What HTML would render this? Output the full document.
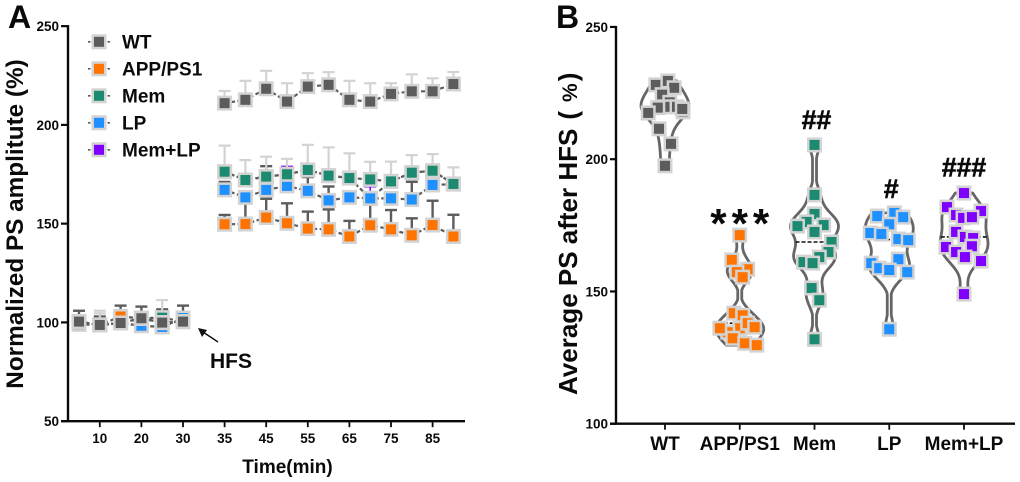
<!DOCTYPE html>
<html lang="en">
<head>
<meta charset="utf-8">
<title>PS amplitude charts</title>
<style>
html,body{margin:0;padding:0;background:#fff;width:1020px;height:482px;overflow:hidden}
svg{display:block;filter:blur(0.3px)}
text{font-family:"Liberation Sans","Noto Sans CJK SC",sans-serif;font-weight:bold;fill:#0a0a0a}
</style>
</head>
<body>
<svg id="chart" width="1020" height="482" viewBox="0 0 1020 482" xmlns="http://www.w3.org/2000/svg">
  <text x="8" y="28" font-size="32">A</text>
  <text x="556" y="28" font-size="32">B</text>
  <text transform="translate(23,224) rotate(-90)" text-anchor="middle" font-size="24.3">Normalized PS amplitute (%)</text>
  <text x="287.5" y="473" text-anchor="middle" font-size="19">Time(min)</text>
  <text transform="translate(577,395) rotate(-90)" font-size="26">Average PS after HFS<tspan dx="9">(</tspan><tspan dx="9" font-size="21">%</tspan><tspan dx="2">)</tspan></text>
  <text x="210" y="368" font-size="21">HFS</text>
  <g>
    <line x1="218" y1="342" x2="203" y2="332" stroke="#111" stroke-width="1.5"/>
    <polygon points="198,328 207,330 202,337" fill="#111"/>
  </g>
  <g id="panelA"></g>
  <g id="legend"></g>
  <g id="panelB"></g>
</svg>
<script>
// ---------- Panel A data ----------
const times = [5,10,15,20,25,30,35,40,45,50,55,60,65,70,75,80,85,90];
const timeTicks = [10,20,30,35,45,55,65,75,85];
const yTicksA = [50,100,150,200,250];
const wtSeries = [100.4,98.7,99.7,102.1,99.9,100.4,211,212.7,218.3,211.8,219.4,220.3,212.7,211.8,215.7,217,217,220.7];
const wtErrors = [3,7.2,4,3,11.4,3,6.2,9.6,9.1,9.3,6.8,6.4,9.6,9.3,5.4,8.6,6.6,6.1];
const appSeries = [100.4,98.7,103,102,99.9,100.4,149.7,149.8,153.1,150.2,147.5,147.1,143.5,149.2,147.1,144.1,149.3,143.5];
const appErrors = [5.5,4.3,5.5,6,6.7,8.1,4.7,12.7,9.5,10.1,8.6,10.1,7.9,14.5,9.8,8.6,12.3,11];
const memSeries = [100.4,98.7,99.7,102.1,102.4,100.4,176.3,172.1,173.8,175,177.2,174.3,173.1,172.4,171.4,175.8,176.8,170.1];
const memErrors = [2,5.9,2,2,2,2,13.2,10.1,10.1,7.8,12.7,14.3,12.5,8.9,10,8.9,8.4,8.4];
const lpSeries = [99,98.7,99.7,98.3,97.7,102.2,167.1,163.3,167.1,169.1,166.6,161.8,163.3,162.8,162.8,162.2,169.6,170];
const lpErrors = [1,1,1,1,1,2.7,4,1,12,2,7,7,2,2,2,9,2,2];
const memLpSeries = [100.4,98.7,99.7,102.1,99.9,100.4,176.3,172.1,173.8,175,177.2,174.3,173.1,162.8,171.4,175.8,176.8,170.1];
const memLpErrors = [1,1,1,1,1,1,1,1,1,4,1,1,1,5.9,1,1,1,1];

// ---------- Panel B data ----------
const groupNames = ["WT","APP/PS1","Mem","LP","Mem+LP"];
const yTicksB = [100,150,200,250];
const wtPoints = [228.1,229.6,227,224.4,221.5,219.8,219.8,219.5,217.9,217.5,219,211.5,205.8,197.5];
const wtJitter = [-0.38,0.12,0.38,-0.12,0.2,0,0.5,-0.3,0.75,-0.7,0.72,-0.25,0.25,0];
const appPoints = [171.3,161.9,158.4,157.3,155.4,141.8,141,136.1,134.6,136.1,138,136.5,132.3,130.4,129.7];
const appJitter = [0,-0.33,0.33,-0.12,0.12,-0.25,0.12,0,-0.5,-0.83,0.33,0.62,-0.29,0.21,0.71];
const memPoints = [205.4,186.5,179.3,176.3,175.1,174.7,172.5,168.7,164.9,163,161.1,160.7,151.3,146.7,131.9];
const memJitter = [0,0,0,-0.33,0.38,-0.71,0,0.71,0.58,0.2,-0.46,-0.08,-0.12,0.2,0];
const lpPoints = [178.5,179.7,178.1,175.4,172.1,171.7,169.8,169.4,162.2,160.7,158.8,158.1,157.3,135.7];
const lpJitter = [-0.5,0.21,0.58,0,-0.79,-0.33,0.38,0.79,0.38,-0.75,-0.42,0,0.75,0];
const memLpPoints = [187.2,181.9,180.4,178.9,177.8,178.1,172.5,170.6,170.2,167.1,166.8,164.9,163,161.5,149];
const memLpJitter = [0,-0.71,0.71,-0.33,-0.04,0.33,-0.33,0.04,0.38,0.33,-0.75,-0.33,0.04,0.71,0];
const bandwidths = [4.5,3.2,4,4.5,4.5];
const significance = ["","***","##","#","###"];
const significanceValues = [0,170.2,211.5,185.3,193.5];

// ---------- Styles ----------
const GREY = "#d3d3d3", DARK = "#5c5c5c";
const COLORS = {wt:"#5c5c5c",app:"#ff7400",mem:"#1c8a70",lp:"#1e90ff",memlp:"#8000ff"};
const svgNS = "http://www.w3.org/2000/svg";

function el(parent, tag, attrs, txt){
  const n = document.createElementNS(svgNS, tag);
  for (const k in attrs) n.setAttribute(k, attrs[k]);
  if (txt !== undefined) n.textContent = txt;
  parent.appendChild(n);
  return n;
}

// ---------- Axis functions ----------
function xA(t){ return t <= 30 ? 79 + (t-5)/5*20.8 : 224.6 + (t-35)/5*20.8; }
function yA(v){ return 322.4 - (v-100)*1.975; }
function xB(i){ return 665 + i*74.75; }
function yB(v){ return 423.7 - (v-100)*2.645; }

const A = document.getElementById("panelA");
const B = document.getElementById("panelB");
const LEG = document.getElementById("legend");

function marker(parent, cx, cy, color){
  const g = el(parent, "g", {});
  el(g, "rect", {x:cx-7.5, y:cy-7.5, width:15, height:15, fill:GREY});
  el(g, "rect", {x:cx-5, y:cy-5, width:10, height:10, fill:color});
  return g;
}

// ---------- Panel A axes ----------
const axisA = el(A, "g", {});


el(axisA, "line", {x1:68, y1:yA(250)-1, x2:68, y2:yA(50)+1, stroke:"#0a0a0a", "stroke-width":2.4});
el(axisA, "line", {x1:61, y1:yA(50), x2:465, y2:yA(50), stroke:"#0a0a0a", "stroke-width":2.4});
yTicksA.forEach(function(v){
  el(axisA, "line", {x1:61, y1:yA(v), x2:68, y2:yA(v), stroke:"#0a0a0a", "stroke-width":2.2});
  const t = el(axisA, "text", {x:59, y:yA(v)+5, "text-anchor":"end", "font-size":13.5}, v);
  
  
});
timeTicks.forEach(function(v){
  el(axisA, "line", {x1:xA(v), y1:yA(50), x2:xA(v), y2:yA(50)+6, stroke:"#0a0a0a", "stroke-width":1.8});
  const t = el(axisA, "text", {x:xA(v), y:443, "text-anchor":"middle", "font-size":13.5}, v);
  
  
});

// ---------- Panel A series ----------
const seriesA = [
  {name:"mem-lp", values:memLpSeries, errs:memLpErrors, color:COLORS.memlp, err:COLORS.memlp, ew:1.5, cap:6},
  {name:"lp", values:lpSeries, errs:lpErrors, color:COLORS.lp, err:DARK, ew:2.4, cap:6},
  {name:"mem", values:memSeries, errs:memErrors, color:COLORS.mem, err:GREY, ew:2.2, cap:6},
  {name:"app-ps1", values:appSeries, errs:appErrors, color:COLORS.app, err:DARK, ew:2.4, cap:6},
  {name:"wt", values:wtSeries, errs:wtErrors, color:COLORS.wt, err:GREY, ew:2.2, cap:6}
];
seriesA.forEach(function(s){
  const g = el(A, "g", {});
  
  
  s.values.forEach(function(v,i){
    const x = xA(times[i]), top = yA(v + s.errs[i]);
    el(g, "line", {x1:x, y1:yA(v), x2:x, y2:top, stroke:s.err, "stroke-width":s.ew});
    el(g, "line", {x1:x-s.cap, y1:top, x2:x+s.cap, y2:top, stroke:s.err, "stroke-width":s.ew});
  });
});
seriesA.forEach(function(s){
  const g = el(A, "g", {});
  
  
  const before = [], after = [];
  s.values.forEach(function(v,i){
    (times[i] <= 30 ? before : after).push(xA(times[i]) + "," + yA(v));
  });
  [before, after].forEach(function(pts){
    el(g, "polyline", {points:pts.join(" "), fill:"none", stroke:DARK, "stroke-width":2.2, "stroke-dasharray":"4 2.5"});
  });
  s.values.forEach(function(v,i){
    const m = marker(g, xA(times[i]), yA(v), s.color);
    
    
  });
});

// ---------- Legend ----------
const legendNames = ["WT","APP/PS1","Mem","LP","Mem+LP"];
const legendColors = [COLORS.wt,COLORS.app,COLORS.mem,COLORS.lp,COLORS.memlp];
legendNames.forEach(function(name,i){
  const y = 41.8 + i*27;
  const g = el(LEG, "g", {});
  
  
  el(g, "line", {x1:88, y1:y, x2:110, y2:y, stroke:DARK, "stroke-width":1.6, "stroke-dasharray":"2.5 17"});
  marker(g, 99, y, legendColors[i]);
  el(g, "text", {x:122, y:y+6.5, "font-size":19}, name);
});

// ---------- Panel B axes ----------
const axisB = el(B, "g", {});


el(axisB, "line", {x1:616, y1:yB(250)-1, x2:616, y2:yB(100)+1, stroke:"#0a0a0a", "stroke-width":2.4});
el(axisB, "line", {x1:610, y1:yB(100), x2:1015, y2:yB(100), stroke:"#0a0a0a", "stroke-width":2.4});
yTicksB.forEach(function(v){
  el(axisB, "line", {x1:610, y1:yB(v), x2:616, y2:yB(v), stroke:"#0a0a0a", "stroke-width":2.2});
  const t = el(axisB, "text", {x:608, y:yB(v)+5, "text-anchor":"end", "font-size":13.5}, v);
  
  
});
groupNames.forEach(function(name,i){
  el(axisB, "line", {x1:xB(i), y1:yB(100), x2:xB(i), y2:yB(100)+6, stroke:"#0a0a0a", "stroke-width":1.8});
  const t = el(axisB, "text", {x:xB(i), y:450, "text-anchor":"middle", "font-size":19}, name);
  
  
});

// ---------- Violins ----------
const groupPoints = [wtPoints,appPoints,memPoints,lpPoints,memLpPoints];
const groupJitter = [wtJitter,appJitter,memJitter,lpJitter,memLpJitter];
const groupColors = [COLORS.wt,COLORS.app,COLORS.mem,COLORS.lp,COLORS.memlp];
const HALF = 24;
const BASE = 0.5;

function kde(vals, bw, at){
  let s = 0;
  vals.forEach(function(v){ const u = (at-v)/bw; s += Math.exp(-0.5*u*u); });
  return s;
}

groupPoints.forEach(function(vals,i){
  const lo = Math.min.apply(null, vals), hi = Math.max.apply(null, vals);
  const n = 70, samples = [];
  let maxD = 0;
  for (let k = 0; k <= n; k++){
    const v = lo + (hi-lo)*k/n, d = kde(vals, bandwidths[i], v);
    samples.push([v,d]);
    if (d > maxD) maxD = d;
  }
  function hw(d){ return 2 + Math.max(0, (d-BASE)/(maxD-BASE))*(HALF-2); }
  const right = samples.map(function(p){ return (xB(i)+hw(p[1])) + "," + yB(p[0]); });
  const left = samples.slice().reverse().map(function(p){ return (xB(i)-hw(p[1])) + "," + yB(p[0]); });
  const g = el(B, "g", {});
  
  
  const shape = el(g, "polygon", {points:right.concat(left).join(" "), fill:"none", stroke:"#666", "stroke-width":2.8, "stroke-linejoin":"round"});
  
  

  const sorted = vals.slice().sort(function(a,b){return a-b;});
  const mid = sorted.length % 2 ? sorted[(sorted.length-1)/2] : (sorted[sorted.length/2-1]+sorted[sorted.length/2])/2;
  const halfAtMid = hw(kde(vals, bandwidths[i], mid));
  const med = el(g, "line", {x1:xB(i)-halfAtMid, y1:yB(mid), x2:xB(i)+halfAtMid, y2:yB(mid), stroke:"#111", "stroke-width":1.6, "stroke-dasharray":"4 2"});
  
  

  vals.forEach(function(v,j){
    const m = marker(g, xB(i)+groupJitter[i][j]*HALF, yB(v), groupColors[i]);
    
    
  });

  if (significance[i]){
    const isStar = i === 1;
    const xOff = isStar ? 2.5 : (i === 4 ? 0 : 2);
    const t = el(g, "text", {x:xB(i)+xOff, y:yB(significanceValues[i]), "text-anchor":"middle", "font-size":isStar?42:26.5, "letter-spacing":isStar?"5":"0", stroke:"#0a0a0a", "stroke-width":isStar?0:0.6}, significance[i]);
    
    
  }
});
</script>
</body>
</html>
